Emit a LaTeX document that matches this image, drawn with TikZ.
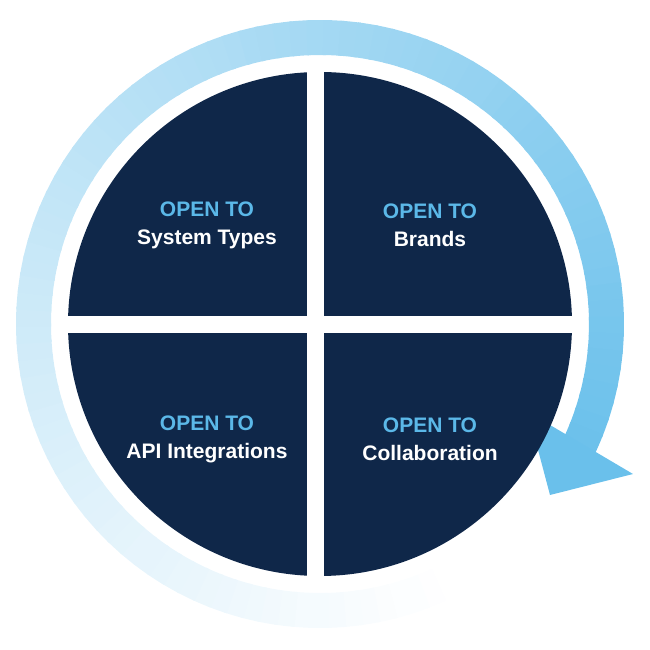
\documentclass[tikz,border=0pt]{standalone}
\usepackage{fontspec}
\setmainfont{Liberation Sans}
\usepackage{tikz}
\definecolor{navy}{HTML}{0F2749}
\definecolor{opentxt}{HTML}{5BB8E8}
\definecolor{ringlight}{HTML}{FFFFFF}
\definecolor{ringdark}{HTML}{6AC0EB}

\begin{document}
\begin{tikzpicture}[x=1pt,y=1pt]
				\tikzset{every node/.style={align=center,font=\fontsize{21}{28}\selectfont\bfseries,text=white}}
				\useasboundingbox (0,0) rectangle (650,650);
				\coordinate (c) at (320,326);
				% outer ring, light to dark
				\foreach \i in {0,...,99}{
					\pgfmathsetmacro\a{301-\i*3.256}
					\pgfmathtruncatemacro\p{100*(\i/100)^1.1}
					\draw[line width=35pt,color=ringdark!\p!ringlight] ([shift={(\a:286.5)}]c) arc[start angle=\a,end angle=\a-3.9,radius=286.5];
				}
				\coordinate (tipa) at (528,238);
				\coordinate (tipb) at (633,176);
				\coordinate (tip) at (550,155);
				\fill[ringdark] (tipa) -- (tipb) -- (tip) -- cycle;
				% quadrants
				\fill[navy] (c) circle[radius=252];
				\fill[white] (307,66) rectangle (324,584);
				\fill[white] (62,317) rectangle (578,334);
				\node (st) at (207,425) {\textcolor{opentxt}{OPEN TO}\\System Types};
				\node (br) at (430,425) {\textcolor{opentxt}{OPEN TO}\\Brands};
				\node (api) at (207,211) {\textcolor{opentxt}{OPEN TO}\\API Integrations};
				\node (col) at (430,211) {\textcolor{opentxt}{OPEN TO}\\Collaboration};
			\end{tikzpicture}
\end{document}
